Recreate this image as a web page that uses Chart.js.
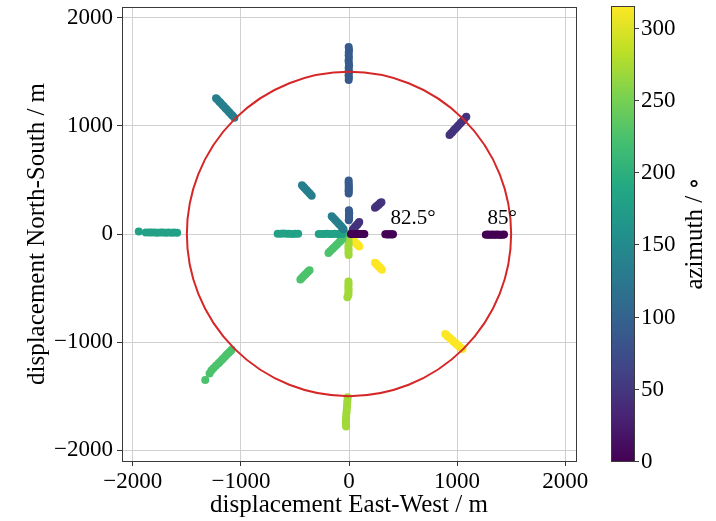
<!DOCTYPE html>
<html lang="en">
<head>
<meta charset="UTF-8">
<title>Displacement by azimuth</title>
<style>
    html, body { margin: 0; padding: 0; background: #fff; }
    #wrap { width: 716px; height: 521px; }
</style>
</head>
<body>
<div id="wrap"><canvas id="chart" width="716" height="521"></canvas></div>

<script src="https://cdn.jsdelivr.net/npm/chart.js"></script>
<script>
// azimuth of each group, degrees (colour scale)
const azimuths = [0, 45, 90, 135, 180, 225, 270, 315];

// displacement East-West / North-South in m
const ew000 = [18, 31, 47, 58, 75, 87, 102, 116, 131, 142, 336, 348, 362, 371, 387, 397, 407, 1266, 1282, 1296, 1311, 1327, 1342, 1357, 1370, 1389, 1401, 1420, 1434];
const ns000 = [0, 1, -1, 0, 1, 0, -1, 0, 1, 0, -3, -2, -4, -3, -2, -4, -3, -6, -5, -7, -6, -5, -7, -6, -5, -6, -7, -6, -5];

const ew045 = [35, 43, 50, 58, 64, 73, 80, 87, 95, 240, 250, 257, 267, 274, 284, 291, 300, 930, 945, 957, 971, 984, 999, 1011, 1027, 1039, 1055, 1067, 1085];
const ns045 = [40, 51, 57, 68, 74, 84, 91, 102, 110, 242, 249, 258, 264, 273, 280, 288, 294, 915, 931, 944, 961, 974, 991, 1004, 1021, 1034, 1051, 1065, 1084];

const ew090 = [-2, 0, 1, -1, 0, 2, 0, -1, -3, -2, -4, -1, -3, -2, -4, -3, -3, -1, -4, 0, -2, -3, 1, -2, -4, -1, -3, -2, 0, -3];
const ns090 = [127, 141, 152, 166, 177, 193, 204, 220, 375, 393, 407, 426, 440, 459, 475, 495, 1425, 1448, 1469, 1493, 1514, 1539, 1559, 1584, 1605, 1631, 1654, 1681, 1704, 1730];

const ew135 = [-50, -64, -75, -91, -103, -119, -131, -147, -160, -345, -359, -370, -385, -396, -411, -422, -435, -1060, -1075, -1087, -1103, -1115, -1131, -1143, -1159, -1171, -1187, -1199, -1216, -1230];
const ns135 = [45, 61, 74, 91, 104, 121, 134, 151, 165, 355, 369, 381, 397, 409, 425, 436, 450, 1075, 1091, 1104, 1121, 1134, 1151, 1164, 1181, 1194, 1211, 1224, 1241, 1255];

const ew180 = [-60, -85, -107, -133, -155, -181, -203, -229, -251, -280, -470, -498, -523, -552, -577, -606, -631, -660, -1590, -1617, -1641, -1669, -1693, -1721, -1745, -1773, -1797, -1825, -1849, -1880, -1945];
const ns180 = [0, 1, 0, 2, 1, 0, 2, 1, 0, 1, 2, 3, 1, 3, 2, 4, 2, 3, 12, 13, 11, 14, 12, 13, 15, 12, 14, 13, 15, 14, 22];

const ew225 = [0, -60, -77, -91, -109, -123, -142, -156, -175, -190, -365, -378, -388, -402, -412, -426, -436, -450, -1085, -1101, -1115, -1132, -1146, -1164, -1177, -1195, -1209, -1231, -1254, -1273, -1290, -1330];
const ns225 = [0, -45, -62, -76, -94, -109, -127, -142, -160, -175, -335, -348, -358, -372, -382, -396, -407, -420, -1070, -1086, -1100, -1118, -1133, -1151, -1165, -1183, -1197, -1219, -1241, -1263, -1290, -1350];

const ew270 = [-4, -5, -3, -6, -4, -5, -3, -5, -4, -6, -5, -4, -6, -5, -15, -12, -14, -16, -18, -20, -22, -24, -26, -28, -29, -28, -27];
const ns270 = [-45, -71, -94, -121, -144, -171, -195, -440, -462, -481, -504, -523, -546, -565, -585, -1510, -1536, -1559, -1586, -1609, -1636, -1659, -1686, -1709, -1736, -1759, -1780];

const ew315 = [40, 48, 53, 62, 67, 76, 81, 90, 95, 240, 250, 257, 268, 276, 287, 295, 305, 890, 904, 915, 931, 942, 958, 969, 985, 996, 1012, 1023, 1038, 1050];
const ns315 = [-60, -66, -75, -80, -89, -94, -103, -108, -115, -265, -273, -284, -291, -303, -310, -322, -330, -925, -936, -950, -960, -974, -984, -998, -1008, -1022, -1032, -1046, -1054, -1065];

const eastWest = [ew000, ew045, ew090, ew135, ew180, ew225, ew270, ew315];
const northSouth = [ns000, ns045, ns090, ns135, ns180, ns225, ns270, ns315];

const xTicks = [-2000, -1000, 0, 1000, 2000];
const yTicks = [-2000, -1000, 0, 1000, 2000];
const axisMin = -2100;
const axisMax = 2100;

const circleRadius = 1500;

const noteText = ['82.5°', '85°'];
const noteX = [385, 1282];
const noteY = [92, 92];

const cbarTicks = [0, 50, 100, 150, 200, 250, 300];
const cbarMin = 0;
const cbarMax = 315;

// viridis colormap stops
const viridisStops = ['#440154', '#482475', '#414487', '#355f8d', '#2a788e', '#21918c',
                      '#22a884', '#44bf70', '#7ad151', '#bddf26', '#fde725'];

function hexToRgb(h) {
    return [parseInt(h.slice(1, 3), 16), parseInt(h.slice(3, 5), 16), parseInt(h.slice(5, 7), 16)];
}

function viridis(t) {
    t = Math.min(1, Math.max(0, t));
    const pos = t * (viridisStops.length - 1);
    const i = Math.min(Math.floor(pos), viridisStops.length - 2);
    const f = pos - i;
    const a = hexToRgb(viridisStops[i]);
    const b = hexToRgb(viridisStops[i + 1]);
    const c = a.map((v, k) => Math.round(v + (b[k] - v) * f));
    return `rgb(${c[0]}, ${c[1]}, ${c[2]})`;
}

const serif = '"Liberation Serif", "DejaVu Serif", serif';
const tickFont = { family: serif, size: 23 };
const labelFont = { family: serif, size: 25 };

function fmt(v) {
    return v < 0 ? '\u2212' + Math.abs(v) : String(v);
}

const datasets = azimuths.map((az, i) => ({
    label: az + '°',
    data: eastWest[i].map((x, j) => ({ x: x, y: northSouth[i][j] })),
    backgroundColor: viridis((az - cbarMin) / (cbarMax - cbarMin)),
    borderColor: viridis((az - cbarMin) / (cbarMax - cbarMin)),
    borderWidth: 0,
    pointRadius: 4,
    pointHoverRadius: 4
}));

// frame, red circle, labels and colour bar
const extras = {
    id: 'extras',
    afterDatasetsDraw(chart) {
        const ctx = chart.ctx;
        const area = chart.chartArea;
        const xs = chart.scales.x;
        const ys = chart.scales.y;

        // red circle
        const cx = xs.getPixelForValue(0);
        const cy = ys.getPixelForValue(0);
        const r = xs.getPixelForValue(circleRadius) - cx;
        ctx.save();
        ctx.beginPath();
        ctx.arc(cx, cy, r, 0, Math.PI * 2);
        ctx.strokeStyle = '#d62728';
        ctx.lineWidth = 2;
        ctx.stroke();

        // zenith notes
        ctx.fillStyle = '#000';
        ctx.font = '21px ' + serif;
        ctx.textAlign = 'left';
        ctx.textBaseline = 'alphabetic';
        noteText.forEach((t, i) => {
            ctx.fillText(t, xs.getPixelForValue(noteX[i]), ys.getPixelForValue(noteY[i]));
        });

        // plot frame
        ctx.strokeStyle = '#3a3a3a';
        ctx.lineWidth = 1;
        ctx.strokeRect(Math.round(area.left) + 0.5, Math.round(area.top) + 0.5,
                       Math.round(area.right - area.left), Math.round(area.bottom - area.top));
        ctx.restore();
    },
    afterDraw(chart) {
        const ctx = chart.ctx;
        const area = chart.chartArea;
        const left = area.right + 35;
        const width = 23;
        const top = area.top - 1;
        const bottom = area.bottom;
        ctx.save();
        const grad = ctx.createLinearGradient(0, bottom, 0, top);
        viridisStops.forEach((c, i) => grad.addColorStop(i / (viridisStops.length - 1), c));
        ctx.fillStyle = grad;
        ctx.fillRect(left, top, width, bottom - top);
        ctx.strokeStyle = '#3a3a3a';
        ctx.lineWidth = 1;
        ctx.strokeRect(left + 0.5, top + 0.5, width, bottom - top);

        ctx.fillStyle = '#000';
        ctx.font = tickFont.size + 'px ' + serif;
        ctx.textAlign = 'left';
        ctx.textBaseline = 'middle';
        cbarTicks.forEach(v => {
            const y = bottom - (v - cbarMin) / (cbarMax - cbarMin) * (bottom - top);
            ctx.beginPath();
            ctx.moveTo(left + width, Math.round(y) + 0.5);
            ctx.lineTo(left + width + 5, Math.round(y) + 0.5);
            ctx.stroke();
            ctx.fillText(String(v), left + width + 7, y + 1);
        });

        ctx.translate(695, (top + bottom) / 2);
        ctx.rotate(-Math.PI / 2);
        ctx.textAlign = 'center';
        ctx.textBaseline = 'middle';
        ctx.font = labelFont.size + 'px ' + serif;
        ctx.fillText('azimuth / \u2218', 0, 0);
        ctx.restore();
    }
};

new Chart(document.getElementById('chart').getContext('2d'), {
    type: 'scatter',
    data: { datasets: datasets },
    options: {
        responsive: false,
        animation: false,
        events: [],
        layout: { padding: { top: 7, right: 140, bottom: 0, left: 0 } },
        plugins: { legend: { display: false }, tooltip: { enabled: false } },
        scales: {
            x: {
                type: 'linear',
                min: axisMin,
                max: axisMax,
                afterBuildTicks: s => { s.ticks = xTicks.map(v => ({ value: v })); },
                afterFit: s => { s.height = 60; s.paddingLeft = 0; s.paddingRight = 0; },
                ticks: { font: tickFont, color: '#000', padding: 2, maxRotation: 0, autoSkip: false, callback: v => fmt(v) },
                grid: { color: '#d0d0d0', lineWidth: 1, tickLength: 5, tickColor: '#333' },
                border: { display: false },
                title: { display: true, text: 'displacement East-West / m', font: labelFont, color: '#000', padding: { top: 0, bottom: 1 } }
            },
            y: {
                type: 'linear',
                min: axisMin,
                max: axisMax,
                afterBuildTicks: s => { s.ticks = yTicks.map(v => ({ value: v })); },
                afterFit: s => { s.width = 122; s.paddingTop = 0; s.paddingBottom = 0; },
                ticks: { font: tickFont, color: '#000', padding: 4, autoSkip: false, callback: v => fmt(v) },
                grid: { color: '#d0d0d0', lineWidth: 1, tickLength: 5, tickColor: '#333' },
                border: { display: false },
                title: { display: true, text: 'displacement North-South / m', font: labelFont, color: '#000', padding: { top: 22, bottom: 0 } }
            }
        }
    },
    plugins: [extras]
});
</script>
</body>
</html>
